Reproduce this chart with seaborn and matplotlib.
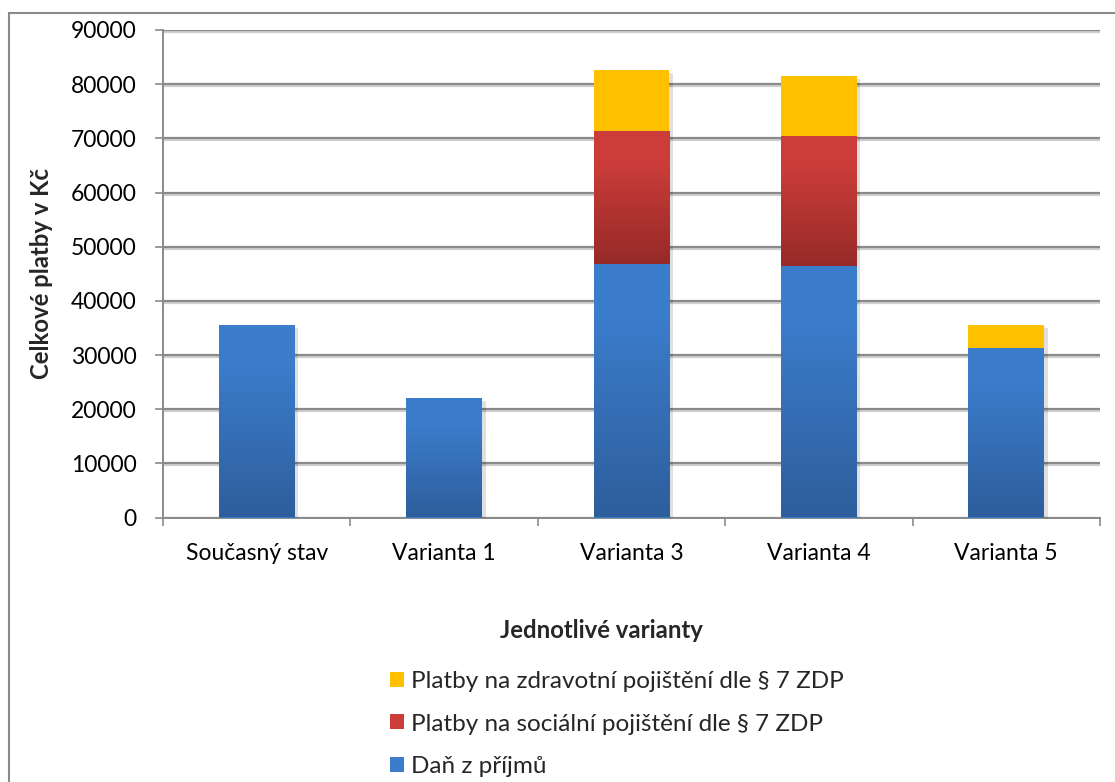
import numpy as np
import pandas as pd
import matplotlib
matplotlib.use("Agg")
import matplotlib.pyplot as plt
import matplotlib.patheffects as pe
from matplotlib.colors import LinearSegmentedColormap
from matplotlib.patches import Rectangle
from matplotlib.ticker import MultipleLocator, FixedLocator
import seaborn as sns

# ---- data -------------------------------------------------------------
categories = ["Současný stav", "Varianta 1", "Varianta 3", "Varianta 4", "Varianta 5"]
dan_z_prijmu = [35500, 22000, 46800, 46400, 31300]
socialni = [0, 0, 24500, 24000, 0]
zdravotni = [0, 0, 11300, 11100, 4200]

series_names = [
    "Daň z příjmů",
    "Platby na sociální pojištění dle § 7 ZDP",
    "Platby na zdravotní pojištění dle § 7 ZDP",
]
series_values = [dan_z_prijmu, socialni, zdravotni]

# light -> dark colour of each series (top -> bottom of a segment)
series_colors = [
    ("#3B7CCB", "#2E5E9C"),
    ("#CC3D3A", "#962A28"),
    ("#FFC000", "#FFC000"),
]

sns.set_theme(style="white")
plt.rcParams["font.family"] = ["Lato", "DejaVu Sans"]
FS = 16.5
FS_TITLE = 17.2
FS_LEG = 17.5

fig = plt.figure(figsize=(11.15, 7.82), dpi=100)
ax = fig.add_axes([163 / 1115, 1 - 517.5 / 782, 937 / 1115, 487.5 / 782])

# ---- stacked bars -----------------------------------------------------
bottoms = np.zeros(len(categories))
segments = []
for name, vals, (c_top, c_bot) in zip(series_names, series_values, series_colors):
    vals = np.asarray(vals, dtype=float)
    tops = bottoms + vals
    before = len(ax.patches)
    df = pd.DataFrame({"cat": categories, "val": tops})
    sns.barplot(data=df, x="cat", y="val", order=categories, color=c_top,
                width=0.405, saturation=1, ax=ax, zorder=3, linewidth=0,
                errorbar=None)
    new = ax.patches[before:]
    for p, b, v in zip(new, bottoms, vals):
        p.set_y(b)
        p.set_height(v)
        p.set_path_effects([pe.SimplePatchShadow(offset=(2.5, -2), shadow_rgbFace="black",
                                                 alpha=0.12), pe.Normal()])
        segments.append((p, c_top, c_bot))
    bottoms = tops

ax.set_xlim(-0.5, len(categories) - 0.5)
ax.set_ylim(0, 90000)

# vertical gradient fill clipped to each segment
for p, c_top, c_bot in segments:
    if p.get_height() <= 0 or c_top == c_bot:
        continue
    cmap = LinearSegmentedColormap.from_list(
        "g", [(0.0, c_bot), (0.78, c_top), (1.0, c_top)])
    grad = np.linspace(0, 1, 256).reshape(-1, 1)
    x0 = p.get_x()
    im = ax.imshow(grad, cmap=cmap, origin="lower", aspect="auto",
                   extent=(x0, x0 + p.get_width(), p.get_y(), p.get_y() + p.get_height()),
                   zorder=3.5, interpolation="bilinear")
    im.set_clip_path(p)

ax.set_xlim(-0.5, len(categories) - 0.5)
ax.set_ylim(0, 90000)

# ---- axes styling -----------------------------------------------------
ax.yaxis.set_major_locator(MultipleLocator(10000))
ax.grid(axis="y", color="#8A8A8A", linewidth=1.6, zorder=1)
for gl in ax.get_ygridlines():
    gl.set_path_effects([pe.SimpleLineShadow(offset=(0, -1.5), shadow_color="#cfcfcf",
                                             alpha=1), pe.Normal()])
ax.grid(axis="x", visible=False)

for s in ["top", "right"]:
    ax.spines[s].set_visible(False)
for s in ["left", "bottom"]:
    ax.spines[s].set_color("#8A8A8A")
    ax.spines[s].set_linewidth(1.4)

ax.tick_params(axis="y", which="major", left=True, length=6, width=1.2,
               color="#8A8A8A", pad=13, labelsize=FS, labelcolor="black")
ax.tick_params(axis="x", which="major", bottom=False, length=0, pad=18,
               labelsize=FS, labelcolor="black")
ax.xaxis.set_minor_locator(FixedLocator(np.arange(len(categories) + 1) - 0.5))
ax.tick_params(axis="x", which="minor", bottom=True, length=6, width=1.2,
               color="#8A8A8A")

ax.set_xlabel("Jednotlivé varianty", fontsize=FS_TITLE, fontweight="bold")
ax.xaxis.set_label_coords((601 - 163) / 937, -(630 - 517.5) / 487.5)
ax.xaxis.label.set_verticalalignment("center")
ax.set_ylabel("Celkové platby v Kč", fontsize=FS_TITLE, fontweight="bold")
ax.yaxis.set_label_coords((42 - 163) / 937, 0.5)
ax.yaxis.label.set_verticalalignment("center")

# ---- legend -----------------------------------------------------------
handles = [Rectangle((0, 0), 1, 1, facecolor=c[0], edgecolor="none")
           for c in series_colors]
leg = fig.legend(handles[::-1], series_names[::-1], loc="upper left",
                 bbox_to_anchor=(378 / 1115, 1 - 659 / 782), frameon=False,
                 fontsize=FS_LEG, handlelength=0.57, handleheight=0.57,
                 handletextpad=0.3, labelspacing=0.88, borderpad=0)

# chart area frame
fig.patches.append(Rectangle((9 / 1115, -0.1), 1.2, 1 - 13 / 782 + 0.1,
                             transform=fig.transFigure, fill=False,
                             edgecolor="#8A8A8A", linewidth=1.5))

fig.savefig("out.png", dpi=100, facecolor="white")
